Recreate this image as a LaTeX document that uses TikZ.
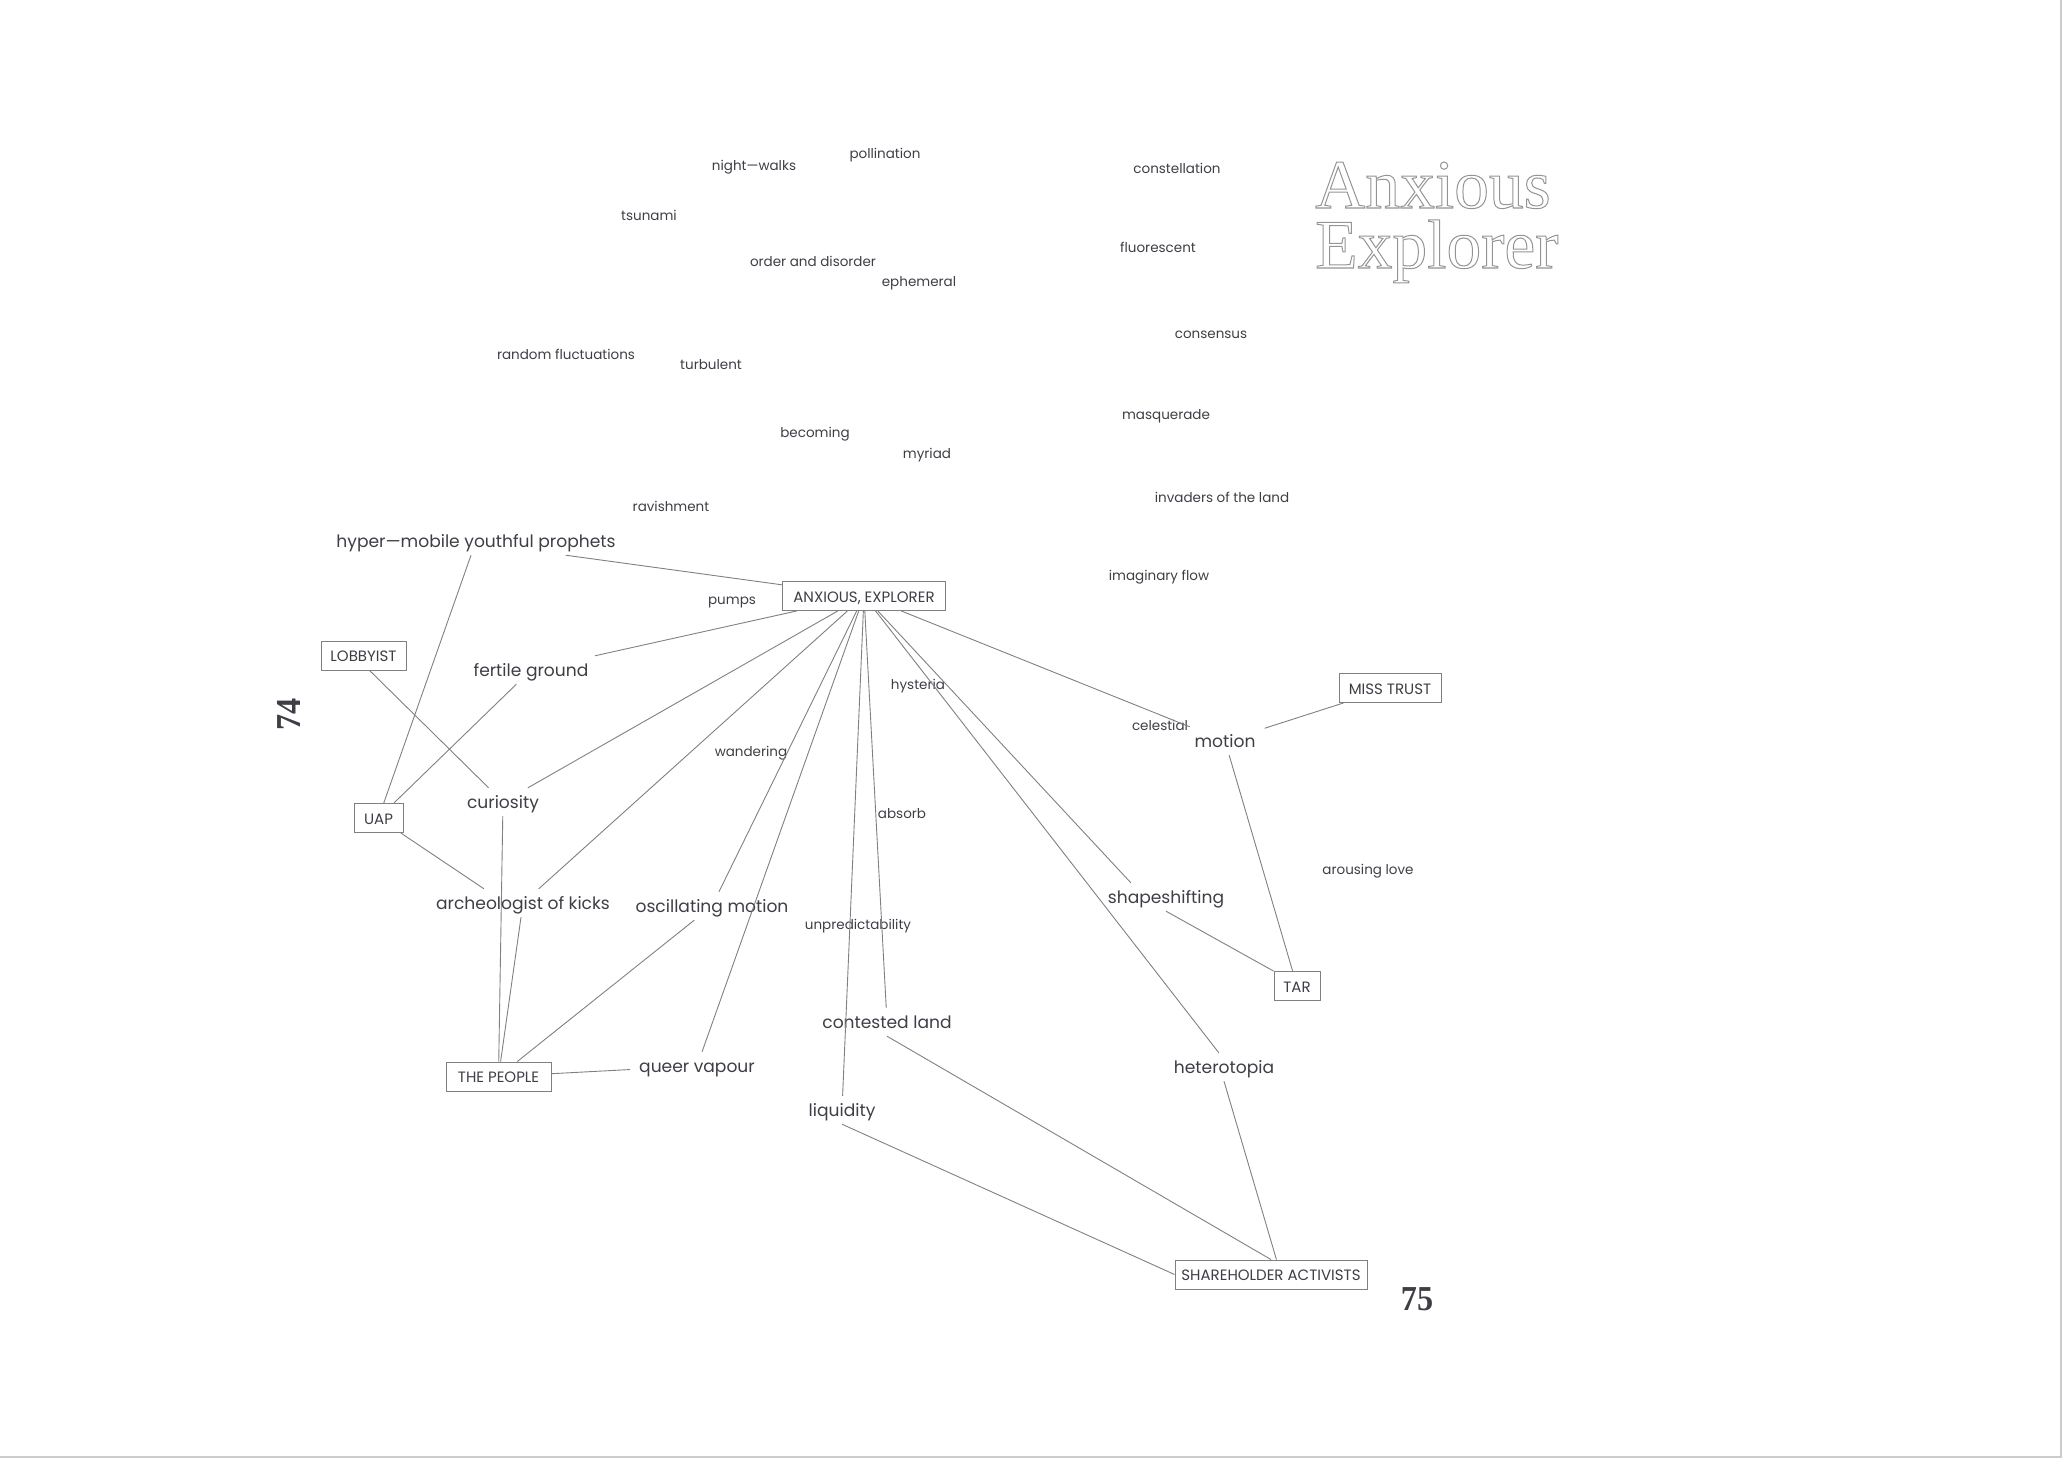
\documentclass[tikz,border=0pt]{standalone}
\usepackage{xcolor}
\usepackage{fontspec}
\usepackage{tikz}
\usetikzlibrary{positioning}
\setmainfont{Poppins}
\newfontfamily\titlefont{Liberation Serif}
\newfontfamily\foliofont[FakeStretch = 0.92]{Liberation Serif}
\definecolor{ink}{HTML}{3E3E46}
\definecolor{rule}{HTML}{808080}
\newcommand{\outlined}[1]{\special{pdf:code 1 Tr 1 w 0.58 G}#1\special{pdf:code 0 Tr}}
\tikzset{
big word/.style = { text = ink, font = \fontsize{17.1}{20}\selectfont, inner xsep = 9pt, inner ysep = 0pt, minimum height = 28pt, text height = 14pt, text depth = 1pt },
small word/.style = { text = ink, font = \fontsize{13.5}{16}\selectfont, inner sep = 0pt, yshift = -0.8pt },
agent/.style = { rectangle, draw = rule, fill = white, line width = 0.9pt, text = ink, font = \fontsize{15}{18}\selectfont, minimum height = 29pt, inner xsep = 0pt, inner ysep = 0pt, text height = 12pt, text depth = 0pt },
link/.style = { draw = rule, line width = 0.9pt },
folio/.style = { text = ink, font = \foliofont\bfseries\fontsize{35}{40}\selectfont, inner sep = 0pt },
title block/.style = { anchor = base west, align = left, font = \titlefont\fontsize{69.5}{60}\selectfont, inner sep = 0pt },
}
\begin{document}
\begin{tikzpicture}[x = 1pt, y = -1pt]
    \useasboundingbox (0, 0) rectangle (2062, 1458);
    \draw[draw = black!20, line width = 2pt] (2061, 0) -- (2061, 1457) -- (0, 1457);
    % title
    \node[title block] (title) at (1315, 268) {\outlined{Anxious}\\\outlined{Explorer}};
    \node[folio, rotate = 90] (page left) at (289, 714) {74};
    \node[folio] (page right) at (1417, 1299) {75};
    % words on their own
    \node[small word] (night) at (754, 166) {night—walks};
    \node[small word] (pollination) at (885, 154) {pollination};
    \node[small word] (tsunami) at (649, 215) {tsunami};
    \node[small word] (order) at (813, 261) {order and disorder};
    \node[small word] (ephemeral) at (919, 282) {ephemeral};
    \node[small word] (random) at (566, 354) {random fluctuations};
    \node[small word] (turbulent) at (711, 364) {turbulent};
    \node[small word] (constellation) at (1177, 168) {constellation};
    \node[small word] (fluorescent) at (1158, 247) {fluorescent};
    \node[small word] (consensus) at (1211, 334) {consensus};
    \node[small word] (masquerade) at (1166, 415) {masquerade};
    \node[small word] (becoming) at (815, 433) {becoming};
    \node[small word] (myriad) at (927, 454) {myriad};
    \node[small word] (ravishment) at (671, 506) {ravishment};
    \node[small word] (invaders) at (1222, 497) {invaders of the land};
    \node[small word] (imaginary) at (1159, 576) {imaginary flow};
    \node[small word] (pumps) at (732, 602) {pumps};
    \node[small word] (hysteria) at (918, 685) {hysteria};
    \node[small word] (wandering) at (751, 752) {wandering};
    \node[small word] (celestial) at (1160, 725) {celestial};
    \node[small word] (absorb) at (902, 813) {absorb};
    \node[small word] (arousing) at (1368, 870) {arousing love};
    \node[small word] (unpredictability) at (858, 925) {unpredictability};
    % words on the lines
    \node[big word] (hyper) at (476, 541) {hyper—mobile youthful prophets};
    \node[big word] (fertile) at (531, 670) {fertile ground};
    \node[big word] (curiosity) at (503, 802) {curiosity};
    \node[big word] (archeologist) at (523, 903) {archeologist of kicks};
    \node[big word] (oscillating) at (712, 906) {oscillating motion};
    \node[big word] (queer) at (697, 1066) {queer vapour};
    \node[big word] (contested) at (887, 1022) {contested land};
    \node[big word] (liquidity) at (842, 1110) {liquidity};
    \node[big word] (heterotopia) at (1224, 1067) {heterotopia};
    \node[big word] (shapeshifting) at (1166, 897) {shapeshifting};
    \node[big word] (motion) at (1225, 741) {motion};
    % boxes
    \node[agent, minimum width = 163pt] (explorer) at (864, 596) {ANXIOUS, EXPLORER};
    \node[agent, minimum width = 85pt] (lobbyist) at (363.5, 655.5) {LOBBYIST};
    \node[agent, minimum width = 49pt] (uap) at (378.5, 818) {UAP};
    \node[agent, minimum width = 105pt] (people) at (498.5, 1076.5) {THE PEOPLE};
    \node[agent, minimum width = 102pt] (trust) at (1390, 688) {MISS TRUST};
    \node[agent, minimum width = 46pt] (tar) at (1297, 986) {TAR};
    \node[agent, minimum width = 192pt] (activists) at (1271, 1274.5) {SHAREHOLDER ACTIVISTS};
    % lines
    \draw[link] (hyper.351.5) -- (explorer);
    \draw[link] (hyper) -- (uap);
    \draw[link] (lobbyist.292) -- (curiosity);
    \draw[link] (fertile) -- (explorer);
    \draw[link] (fertile) -- (uap);
    \draw[link] (curiosity) -- (explorer);
    \draw[link] (curiosity) -- (people);
    \draw[link] (archeologist) -- (explorer);
    \draw[link] (archeologist.160) -- (uap);
    \draw[link] (archeologist) -- (people);
    \draw[link] (oscillating) -- (explorer);
    \draw[link] (oscillating) -- (people);
    \draw[link] (queer) -- (explorer);
    \draw[link] (queer) -- (people);
    \draw[link] (contested) -- (explorer);
    \draw[link] (contested.south) -- (activists.north);
    \draw[link] (liquidity) -- (explorer);
    \draw[link] (liquidity.south) -- (activists.west);
    \draw[link] (heterotopia.110) -- (explorer);
    \draw[link] (heterotopia.south) -- (activists.70);
    \draw[link] (explorer) -- (shapeshifting.158);
    \draw[link] (shapeshifting.south) -- (tar.north west);
    \draw[link] (explorer) -- (motion);
    \draw[link] (motion) -- (trust);
    \draw[link] (motion) -- (tar);
\end{tikzpicture}
\end{document}
